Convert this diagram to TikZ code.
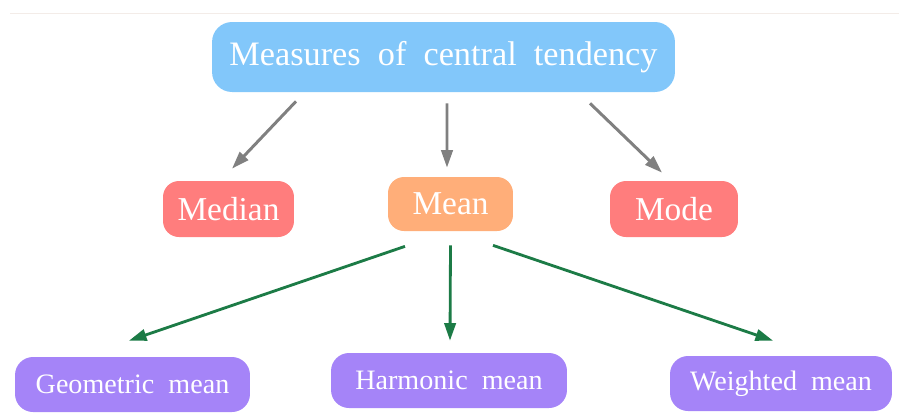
\documentclass[tikz,border=0pt]{standalone}
\usepackage{fontspec}
\setmainfont{Liberation Serif}
\usetikzlibrary{arrows.meta}

\definecolor{topblue}{HTML}{82C7FA}
\definecolor{boxred}{HTML}{FF7D7D}
\definecolor{boxorange}{HTML}{FFAE79}
\definecolor{boxpurple}{HTML}{A584F8}
\definecolor{arrgreen}{HTML}{1C7B46}
\definecolor{arrgray}{HTML}{808080}
\definecolor{rulecol}{HTML}{F3ECE8}

\begin{document}
\begin{tikzpicture}[
		x=0.02cm, y=-0.02cm,
		every node/.style={text=white, inner sep=0pt},
		topbox/.style={fill=topblue, rounded corners=0.4cm, minimum width=9.26cm, minimum height=1.4cm, font=\fontsize{19.5}{24}\selectfont},
		midbox/.style={rounded corners=0.32cm, minimum height=1.12cm, font=\fontsize{19}{23}\selectfont},
		lowbox/.style={fill=boxpurple, rounded corners=0.36cm, minimum height=1.1cm, font=\fontsize{16}{19}\selectfont},
		grayarrow/.style={-{Triangle[length=10pt, width=6.5pt]}, draw=arrgray, line width=1.7pt},
		greenarrow/.style={-{Triangle[length=10pt, width=6.5pt]}, draw=arrgreen, line width=1.6pt},
		]
		\useasboundingbox (0,0) rectangle (899,417);
		% faint rule at the top
		\draw[rulecol, line width=0.5pt] (10,13) -- (899,13);
		
		% Top node
		\node[topbox] (measures) at (443.5,57) {Measures\ \ of\ \ central\ \ tendency};
		
		% Middle row
		\node[midbox, fill=boxred, minimum width=2.62cm] (median) at (228.5,209) {Median};
		\node[midbox, fill=boxorange, minimum width=2.5cm, minimum height=1.08cm] (mean) at (450.5,204) {Mean};
		\node[midbox, fill=boxred, minimum width=2.56cm] (mode) at (674,209) {Mode};
		
		% Bottom row
		\node[lowbox, minimum width=4.7cm] (geomean) at (132.5,384.5) {Geometric\ \ mean};
		\node[lowbox, minimum width=4.72cm] (harmean) at (449,380.5) {Harmonic\ \ mean};
		\node[lowbox, minimum width=4.44cm] (weimean) at (781,383.5) {Weighted\ \ mean};
		
		% Arrows from the top node
		\draw[grayarrow] ([shift={(-147.5,9)}]measures.south) -- ([shift={(3.5,-12)}]median.north);
		\draw[grayarrow] ([shift={(3.5,11)}]measures.south) -- ([shift={(-3.5,-9)}]mean.north);
		\draw[grayarrow] ([shift={(146.5,11)}]measures.south) -- ([shift={(-12,-8)}]mode.north);
		
		% Arrows from the mean
		\draw[greenarrow] ([shift={(-45.5,15)}]mean.south) -- ([shift={(-3.5,-16)}]geomean.north);
		\draw[greenarrow] ([shift={(0,14)}]mean.south) -- ([shift={(1,-12)}]harmean.north);
		\draw[greenarrow] ([shift={(42.5,14)}]mean.south) -- ([shift={(-8,-15)}]weimean.north);
		
	\end{tikzpicture}
\end{document}
